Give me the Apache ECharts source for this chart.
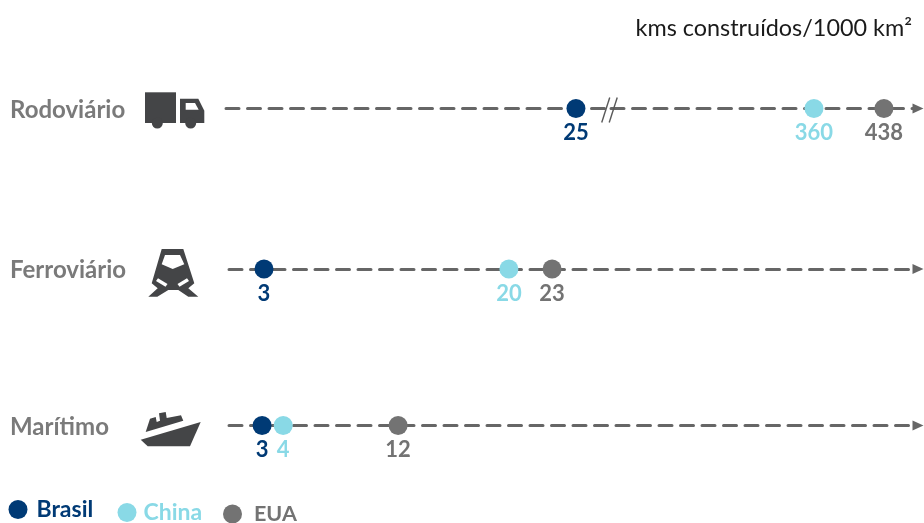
<!DOCTYPE html>
<html>
<head>
<meta charset="utf-8">
<style>html,body{margin:0;padding:0;background:#fff}#chart{width:924px;height:523px}</style>
<script src="https://cdn.jsdelivr.net/npm/echarts@6/dist/echarts.min.js"></script>
</head>
<body>
<div id="chart"></div>
<script>
// Densidade de infraestrutura de transporte por modal
const unitLabel = 'kms construídos/1000 km²';
const modes = ['Rodoviário', 'Ferroviário', 'Marítimo'];
const countries = ['Brasil', 'China', 'EUA'];
const brasil = [25, 3, 3];
const china = [360, 20, 4];
const eua = [438, 23, 12];

const colors = { Brasil: '#003a75', China: '#89d9e6', EUA: '#737373' };
const values = { Brasil: brasil, China: china, EUA: eua };
const font = 'Lato';
const rowY = [108.5, 269, 425.5];
const lineColor = '#666666';
const iconColor = '#444547';

// Uma grade por trecho de eixo: o rodoviário tem escala interrompida em dois trechos
const segments = [
  { row: 0, left: 226, right: 313, min: 0.14, max: 27.49 },
  { row: 0, left: 611, right: 6, min: 133.7, max: 476, arrow: true },
  { row: 1, left: 229, right: 6, min: 0.57, max: 48.4, arrow: true },
  { row: 2, left: 229, right: 6, min: 0.81, max: 46.4, arrow: true }
];
const axisBreakValue = 27.4;

const grid = segments.map(s => ({ left: s.left, right: s.right, top: rowY[s.row] - 20, height: 40 }));
const xAxis = segments.map((s, i) => ({
  gridIndex: i, type: 'value', min: s.min, max: s.max,
  axisTick: { show: false }, axisLabel: { show: false }, splitLine: { show: false },
  axisLine: {
    show: true, onZero: true,
    symbol: s.arrow ? ['none', 'triangle'] : ['none', 'none'],
    symbolSize: [10, 11],
    lineStyle: { color: lineColor, width: 3, type: [13, 8.5] }
  }
}));
const yAxis = segments.map((s, i) => ({ gridIndex: i, type: 'value', min: -1, max: 1, show: false }));

// Eixo de cada ponto: o Brasil rodoviário cai no primeiro trecho, o resto no trecho com seta
function axisFor(row, value) {
  if (row === 0) return value <= segments[0].max ? 0 : 1;
  return row + 1;
}

const series = [];
countries.forEach(name => {
  values[name].forEach((v, row) => {
    // China marítimo encosta no Brasil: o círculo é deslocado para os dois ficarem visíveis
    const dodge = name === 'China' && row === 2 ? 6 : 0;
    series.push({
      type: 'scatter', name,
      xAxisIndex: axisFor(row, v), yAxisIndex: axisFor(row, v),
      data: [[v, 0]],
      clip: false, z: name === 'Brasil' ? 6 : 5,
      symbol: 'circle', symbolSize: 19, symbolOffset: [dodge, 0],
      itemStyle: { color: colors[name], opacity: 1 },
      label: {
        show: true, position: 'bottom', distance: 4,
        formatter: String(v),
        color: colors[name], fontFamily: font, fontWeight: 'bold', fontSize: 22
      }
    });
  });
});

// Marca "//" da interrupção de escala
series.push({
  type: 'custom', xAxisIndex: 0, yAxisIndex: 0, silent: true, z: 7, clip: false,
  data: [[axisBreakValue, 0]],
  renderItem(params, api) {
    const p = api.coord([api.value(0), api.value(1)]);
    const style = { stroke: '#595959', lineWidth: 1.4, fill: null };
    return {
      type: 'group',
      children: [-4, 3.5].map(dx => ({
        type: 'line',
        shape: { x1: p[0] + dx - 4, y1: p[1] + 14, x2: p[0] + dx + 4, y2: p[1] - 11 },
        style
      }))
    };
  }
});

const legendSpots = {
  Brasil: { left: 8.5, top: 498, size: 23, gap: 4 },
  China: { left: 117.5, top: 501, size: 23, gap: 2 },
  EUA: { left: 223, top: 503, size: 21.5, gap: 7 }
};
const legend = countries.map(name => ({
  data: [name], orient: 'horizontal', padding: 0, selectedMode: false,
  left: legendSpots[name].left, top: legendSpots[name].top,
  icon: 'circle', itemWidth: 19, itemHeight: 19, itemGap: 0,
  textStyle: {
    color: colors[name], fontFamily: font, fontWeight: 'bold', fontSize: legendSpots[name].size,
    padding: [0, 0, 0, legendSpots[name].gap]
  }
}));

const title = [{
  text: unitLabel, right: 12, top: 17, padding: 0,
  textStyle: { color: '#1a1a1a', fontFamily: font, fontWeight: 'normal', fontSize: 23.4 }
}];

const modeLabels = modes.map((m, i) => ({
  type: 'text', left: 10, top: rowY[i] - 10.5,
  style: { text: m, fill: '#7a7a7a', font: 'bold 24px ' + font }
}));

// Ícones dos modais, montados com formas simples
const poly = (points, fill = iconColor) => ({ type: 'polygon', silent: true, shape: { points }, style: { fill } });
const wheel = (cx, cy, r) => ({ type: 'circle', silent: true, shape: { cx, cy, r }, style: { fill: iconColor } });

const truckIcon = [
  poly([[145, 92.3], [176, 92.3], [176, 123], [145, 123]]),
  wheel(157.3, 123, 5.5),
  poly([[180, 98.7], [198.3, 98.7], [204.3, 110.7], [204.3, 123], [180, 123]]),
  wheel(190.7, 123, 5.5),
  poly([[185.7, 103], [195, 103], [198.7, 109.7], [185.7, 109.7]], '#ffffff')
];
const trainIcon = [
  poly([[161.7, 249], [183.3, 249], [194.3, 283.3], [188.3, 288.3], [198.3, 296.7], [188.3, 296.7], [178.3, 290], [168.3, 290], [157.3, 296.7], [148.3, 296.7], [157.7, 288.3], [151.7, 283.3]]),
  poly([[165, 255], [180, 255], [184.3, 264.3], [172.7, 269], [161.7, 264.3]], '#ffffff'),
  poly([[156, 281], [158, 278.3], [167.5, 284], [165.5, 286.8]], '#ffffff'),
  poly([[189, 281], [187, 278.3], [177.5, 284], [179.5, 286.8]], '#ffffff')
];
const shipIcon = [
  poly([[140.7, 439.7], [200.7, 422], [190, 446.3], [147.7, 446.3]]),
  poly([[145.7, 432], [150, 418.7], [155.7, 417], [156.7, 422], [160, 420.7], [159, 413.3], [165.7, 412], [166.7, 418], [181, 415.3], [183.3, 420.7]])
];

const chart = echarts.init(document.getElementById('chart'), null, { renderer: 'canvas' });
chart.setOption({
  animation: false, backgroundColor: '#ffffff',
  title, legend, grid, xAxis, yAxis, series,
  graphic: { elements: modeLabels.concat(truckIcon, trainIcon, shipIcon) }
});
</script>
</body>
</html>
